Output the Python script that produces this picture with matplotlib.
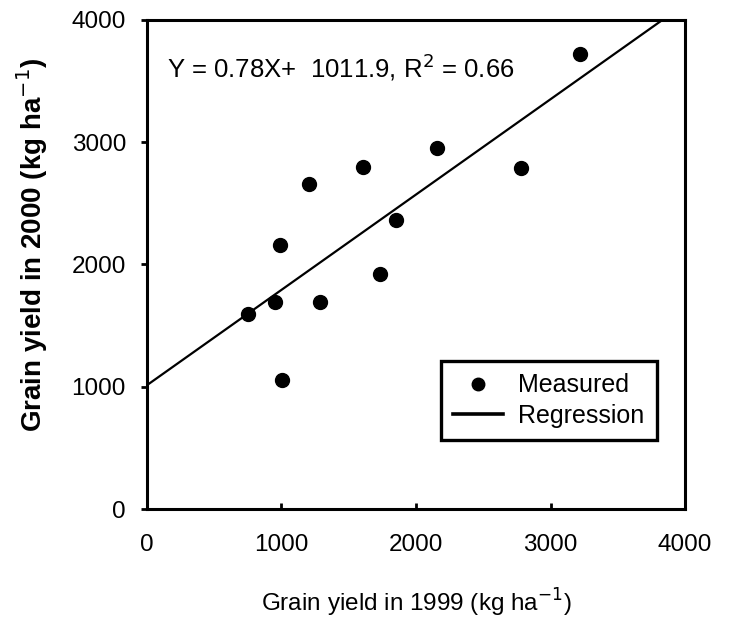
import numpy as np
import matplotlib
matplotlib.use("Agg")
import matplotlib.pyplot as plt

# ---------------------------------------------------------------------------
# Data (kg/ha)
# ---------------------------------------------------------------------------
yield_1999 = [754, 955, 988, 1007, 1202, 1285, 1609, 1730, 1854, 2157, 2781, 3216]
yield_2000 = [1595, 1694, 2161, 1054, 2660, 1694, 2796, 1926, 2360, 2949, 2790, 3725]

SLOPE = 0.78
INTERCEPT = 1011.9
R2 = 0.66

ticks = [0, 1000, 2000, 3000, 4000]
tick_labels = ["0", "1000", "2000", "3000", "4000"]

plt.rcParams["font.family"] = ["Liberation Sans", "DejaVu Sans"]

fig = plt.figure(figsize=(7.34, 6.19), dpi=100)
ax = fig.add_axes([0.2000, 0.1777, 0.7334, 0.7900])

ax.plot(yield_1999, yield_2000, "o", color="black", markersize=10,
        label="Measured", zorder=3)

xfit = np.array([0, 4000])
ax.plot(xfit, SLOPE * xfit + INTERCEPT, "-", color="black", lw=1.6,
        label="Regression", zorder=2)

ax.set_xlim(0, 4000)
ax.set_ylim(0, 4000)
ax.set_xticks(ticks)
ax.set_xticklabels(tick_labels)
ax.set_yticks(ticks)
ax.set_yticklabels(tick_labels)

for sp in ax.spines.values():
    sp.set_linewidth(2.2)

ax.tick_params(axis="x", direction="in", length=4, width=2, labelsize=17.5, pad=18)
ax.tick_params(axis="y", direction="out", length=4, width=2, labelsize=17.5, pad=11)

eq = f"Y = {SLOPE:.2f}X+  {INTERCEPT:.1f}, R$^2$ = {R2:.2f}"
ax.text(0.038, 0.904, eq, transform=ax.transAxes, fontsize=18.5,
        va="center", ha="left")

ax.set_xlabel("Grain yield in 1999 (kg ha$^{-1}$)", fontsize=17.5, labelpad=22)
ax.set_ylabel("Grain yield in 2000 (kg ha$^{-1}$)", fontsize=20,
              fontweight="bold")
ax.yaxis.set_label_coords(-0.18, 0.54)

leg = ax.legend(loc="lower right", bbox_to_anchor=(0.948, 0.141),
                fontsize=18, frameon=True, fancybox=False, edgecolor="black",
                framealpha=1.0, handlelength=2.0, handletextpad=0.6,
                borderpad=0.5, borderaxespad=0.0, labelspacing=0.25,
                markerscale=0.9)
leg.get_frame().set_linewidth(2.4)
leg.get_lines()[1].set_linewidth(2.6)

fig.savefig("out.png", dpi=100, facecolor="white")
